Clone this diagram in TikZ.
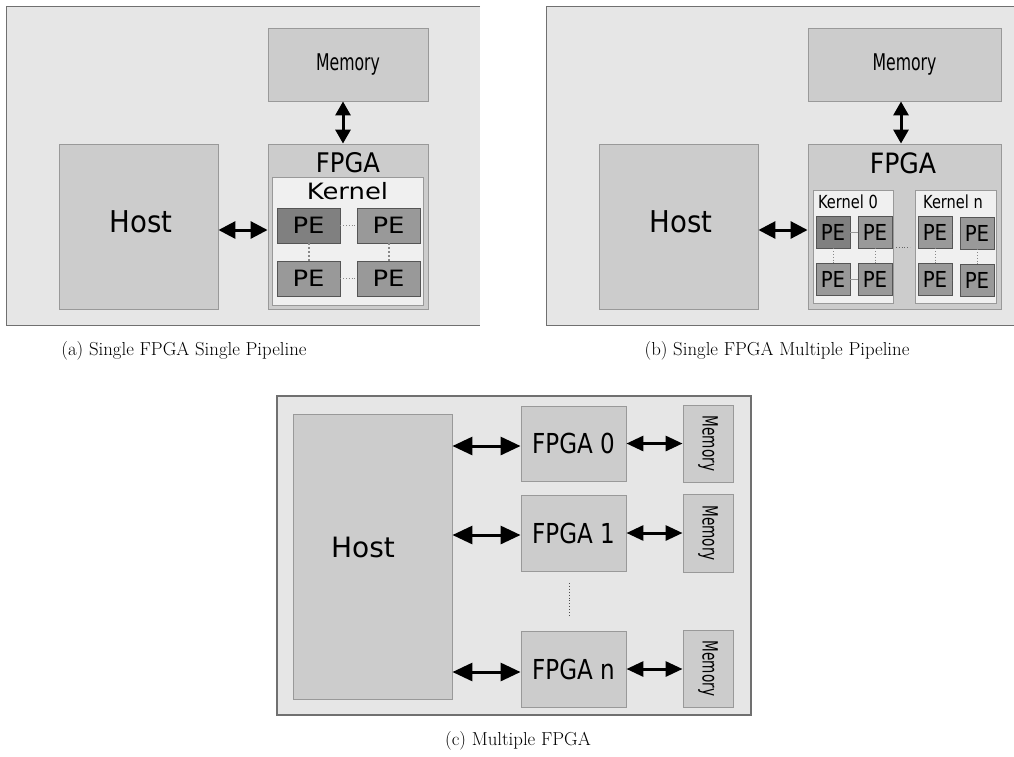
\documentclass[tikz,border=0pt]{standalone}
\usepackage{fontspec}
\usepackage{graphicx}
\usetikzlibrary{arrows.meta}
\newfontfamily\dvs{DejaVu Sans}
\newfontfamily\dvc{DejaVu Sans Condensed}
\definecolor{panelbg}{HTML}{E6E6E6}
\definecolor{panelln}{HTML}{707070}
\definecolor{boxbg}{HTML}{CCCCCC}
\definecolor{boxln}{HTML}{999999}
\definecolor{kernbg}{HTML}{F0F0F0}
\definecolor{pebg}{HTML}{999999}
\definecolor{pedark}{HTML}{808080}
\definecolor{peln}{HTML}{555555}
\definecolor{conn}{HTML}{888888}
\begin{document}
\begin{tikzpicture}[x=1pt,y=-1pt,
  panel/.style={rectangle,fill=panelbg,draw=none,inner sep=0pt},
  panelborder/.style={draw=panelln,line width=1.2pt},
  box/.style={rectangle,fill=boxbg,draw=boxln,line width=0.9pt,inner sep=0pt},
  kern/.style={rectangle,fill=kernbg,draw=boxln,line width=0.9pt,inner sep=0pt},
  pebox/.style={rectangle,fill=pebg,draw=peln,line width=0.8pt,inner sep=0pt},
  pedk/.style={pebox,fill=pedark},
  txt/.style={inner sep=0pt},
  biarrow/.style 2 args={{Triangle[length=#1pt,width=#2pt]}-{Triangle[length=#1pt,width=#2pt]},line width=3pt},
  dotlink/.style={draw=conn,dotted,line width=1.2pt},
  dotlinkthin/.style={draw=conn,dotted,line width=0.8pt},
  sollink/.style={draw=boxln,line width=1pt},
  captxt/.style={inner sep=0pt,font=\fontsize{18.8}{22}\selectfont}
]
\useasboundingbox (0,0) rectangle (1014,756);

% ---------------- Panel (a) ----------------
\node[panel,minimum width=473pt,minimum height=318pt] (pa) at (243.5,166) {};
\draw[panelborder] (pa.north east) -- (pa.north west) -- (pa.south west) -- (pa.south east);
\node[box,minimum width=160pt,minimum height=73pt,font=\dvc\fontsize{23}{26}\selectfont] (memA) at (348,64.5) {\scalebox{0.76}[1]{Memory}};
\node[box,minimum width=160pt,minimum height=165pt] (fpgaA) at (348,226.5) {};
\node[box,minimum width=159pt,minimum height=165pt] (hostA) at (138.5,226.5) {};
\node[txt,font=\dvs\fontsize{30}{34}\selectfont] (hostAt) at (141,222) {\scalebox{0.92}[1]{Host}};
\node[txt,font=\dvc\fontsize{27}{30}\selectfont] (fpgaAt) at (348,163) {FPGA};
\node[kern,minimum width=151pt,minimum height=128pt] (kA) at (347.5,241) {};
\node[txt,font=\dvs\fontsize{22.5}{26}\selectfont] (kAt) at (347.5,191) {\scalebox{1.15}[1]{Kernel}};
\node[pedk,minimum width=63pt,minimum height=35pt,font=\dvs\fontsize{22.5}{26}\selectfont] (a11) at (308.5,225.5) {\scalebox{1.15}[1]{PE}};
\node[pebox,minimum width=63pt,minimum height=35pt,font=\dvs\fontsize{22.5}{26}\selectfont] (a12) at (388.5,225.5) {\scalebox{1.15}[1]{PE}};
\node[pebox,minimum width=63pt,minimum height=35pt,font=\dvs\fontsize{22.5}{26}\selectfont] (a21) at (308.5,278.5) {\scalebox{1.15}[1]{PE}};
\node[pebox,minimum width=63pt,minimum height=35pt,font=\dvs\fontsize{22.5}{26}\selectfont] (a22) at (388.5,278.5) {\scalebox{1.15}[1]{PE}};
\draw[dotlinkthin] (a11) -- (a12);
\draw[dotlinkthin] (a21) -- (a22);
\draw[dotlink,line width=2pt] (a11) -- (a21);
\draw[dotlink,line width=2pt] (a12) -- (a22);
\draw[biarrow={17}{17}] (hostA.east |- 0,230) -- (fpgaA.west |- 0,230);
\draw[biarrow={14}{15}] (memA.south -| 343,0) -- (fpgaA.north -| 343,0);
\node[captxt] (capA) at (184,351) {(a) Single FPGA Single Pipeline};

% ---------------- Panel (b) ----------------
\node[panel,minimum width=467pt,minimum height=318pt] (pb) at (780.5,166) {};
\draw[panelborder] (pb.north east) -- (pb.north west) -- (pb.south west) -- (pb.south east);
\node[box,minimum width=193pt,minimum height=73pt,font=\dvc\fontsize{23}{26}\selectfont] (memB) at (904.5,64.5) {\scalebox{0.76}[1]{Memory}};
\node[box,minimum width=193pt,minimum height=165pt] (fpgaB) at (904.5,226.5) {};
\node[box,minimum width=159pt,minimum height=165pt] (hostB) at (678.5,226.5) {};
\node[txt,font=\dvs\fontsize{30}{34}\selectfont] (hostBt) at (681,222) {\scalebox{0.92}[1]{Host}};
\node[txt,font=\dvc\fontsize{28}{30}\selectfont] (fpgaBt) at (903,163) {FPGA};
\node[kern,minimum width=80pt,minimum height=113pt] (k0) at (853,246.5) {};
\node[kern,minimum width=81pt,minimum height=113pt] (kn) at (955.5,246.5) {};
\node[txt,font=\dvc\fontsize{18}{20}\selectfont] (k0t) at (848,202) {\scalebox{0.9}[1]{Kernel 0}};
\node[txt,font=\dvc\fontsize{18}{20}\selectfont] (knt) at (953,202) {\scalebox{0.9}[1]{Kernel n}};
\tikzset{peb/.style={pebox,minimum width=34pt,minimum height=32pt,font=\dvc\fontsize{22}{24}\selectfont}}
\node[peb,fill=pedark] (b11) at (833,232) {PE};
\node[peb] (b12) at (875,232) {PE};
\node[peb] (b21) at (833,279.5) {PE};
\node[peb] (b22) at (875,279.5) {PE};
\node[peb] (c11) at (935,232) {PE};
\node[peb] (c12) at (977,233) {PE};
\node[peb] (c21) at (935,279.5) {PE};
\node[peb] (c22) at (977,280) {PE};
\draw[sollink] (b11) -- (b12);
\draw[sollink] (b21) -- (b22);
\draw[sollink] (c11) -- (c12 -| c11.east);
\draw[sollink] (c21) -- (c22 -| c21.east);
\draw[dotlinkthin] (b11) -- (b21);
\draw[dotlinkthin] (b12) -- (b22);
\draw[dotlinkthin] (c11) -- (c21);
\draw[dotlinkthin] (c12) -- (c22);
\coordinate (kd1) at (896,247);
\coordinate (kd2) at (910,247);
\draw[draw=black!60,dotted,line width=0.8pt] (kd1) -- (kd2);
\draw[biarrow={17}{17}] (hostB.east |- 0,230) -- (fpgaB.west |- 0,230);
\draw[biarrow={14}{15}] (memB.south -| 901,0) -- (fpgaB.north -| 901,0);
\node[captxt] (capB) at (777,351) {(b) Single FPGA Multiple Pipeline};

% ---------------- Panel (c) ----------------
\node[panel,draw=panelln,line width=1.2pt,minimum width=474pt,minimum height=319pt] (pc) at (514,555.5) {};
\node[box,minimum width=159pt,minimum height=285pt] (hostC) at (372.5,556.5) {};
\node[txt,font=\dvs\fontsize{28}{32}\selectfont] (hostCt) at (363,547) {Host};
\tikzset{fpc/.style={box,minimum width=105pt,minimum height=76pt,font=\dvc\fontsize{27.5}{30}\selectfont},
         mmc/.style={box,minimum width=50pt,minimum height=77pt,font=\dvc\fontsize{21}{24}\selectfont}}
\node[fpc,minimum height=75pt] (f0) at (573.5,443.5) {\scalebox{0.93}[1]{FPGA 0}};
\node[fpc] (f1) at (573.5,533) {\scalebox{0.93}[1]{FPGA 1}};
\node[fpc] (fn) at (573.5,669) {\scalebox{0.93}[1]{FPGA n}};
\node[mmc] (m0) at (708,443.5) {\rotatebox{-90}{\scalebox{0.72}[1]{Memory}}};
\node[mmc,minimum height=78pt] (m1) at (708,533) {\rotatebox{-90}{\scalebox{0.72}[1]{Memory}}};
\node[mmc] (mn) at (708,668.5) {\rotatebox{-90}{\scalebox{0.72}[1]{Memory}}};
\draw[biarrow={20}{18}] ([yshift=-2.5pt]hostC.east |- f0.west) -- ([yshift=-2.5pt]f0.west);
\draw[biarrow={20}{18}] ([yshift=-2pt]hostC.east |- f1.west) -- ([yshift=-2pt]f1.west);
\draw[biarrow={20}{18}] ([yshift=-3pt]hostC.east |- fn.west) -- ([yshift=-3pt]fn.west);
\draw[biarrow={17}{15}] (f0.east) -- (m0.west |- f0.east);
\draw[biarrow={17}{15}] (f1.east) -- (m1.west |- f1.east);
\draw[biarrow={17}{15}] (fn.east) -- (mn.west |- fn.east);
\coordinate (vd1) at (569,583);
\coordinate (vd2) at (569,617);
\draw[draw=black!70,dotted,line width=0.9pt] (vd1) -- (vd2);
\node[captxt] (capC) at (518,741) {(c) Multiple FPGA};
\end{tikzpicture}
\end{document}
